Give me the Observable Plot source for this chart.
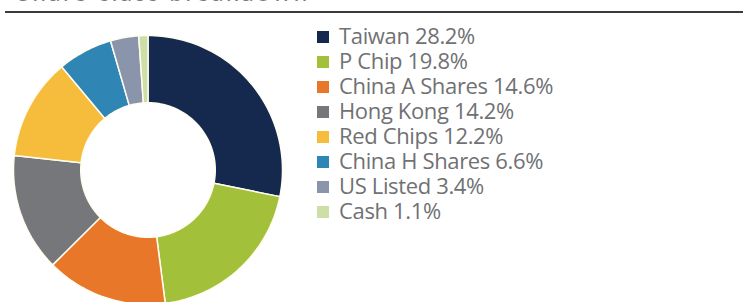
<!DOCTYPE html>
<html>
<head>
<meta charset="utf-8">
<script src="https://cdn.jsdelivr.net/npm/d3@7"></script>
<script src="https://cdn.jsdelivr.net/npm/@observablehq/plot@0.6"></script>
<style>
  html, body { margin: 0; padding: 0; background: #fff; }
  #wrap { position: relative; width: 743px; height: 302px; overflow: hidden; background: #fff; font-family: Lato, sans-serif; }
  #title { position: absolute; left: 17px; top: -20px; font-size: 24px; line-height: 24px; color: #7a7a7a; letter-spacing: 2.6px; white-space: nowrap; }
  #rule { position: absolute; left: 5px; right: 0; top: 11px; height: 2px; background: #3a3a3a; }
  #pie { position: absolute; left: 0; top: 0; }
  #legend { position: absolute; left: 300px; top: 0; }
</style>
</head>
<body>
<div id="wrap">
  <div id="title">Share class breakdown</div>
  <div id="rule"></div>
  <div id="pie"></div>
  <div id="legend"></div>
</div>
<script>
const categories = ["Taiwan", "P Chip", "China A Shares", "Hong Kong", "Red Chips", "China H Shares", "US Listed", "Cash"];
const values = [28.2, 19.8, 14.6, 14.2, 12.2, 6.6, 3.4, 1.1];
const colors = ["#14294d", "#a3c03a", "#e8772a", "#76777b", "#f6bd3c", "#2f86b4", "#8a95ab", "#cddfa6"];

const innerRatio = 0.5;
const total = d3.sum(values);

// Build polygon outlines for each donut slice (clockwise from 12 o'clock)
const points = [];
let acc = 0;
categories.forEach((name, i) => {
  const a0 = acc / total * 2 * Math.PI;
  acc += values[i];
  const a1 = acc / total * 2 * Math.PI;
  const n = Math.max(2, Math.ceil((a1 - a0) / (2 * Math.PI) * 240));
  for (let k = 0; k <= n; k++) {
    const a = a0 + (a1 - a0) * k / n;
    points.push({name, x: Math.sin(a), y: Math.cos(a)});
  }
  for (let k = n; k >= 0; k--) {
    const a = a0 + (a1 - a0) * k / n;
    points.push({name, x: innerRatio * Math.sin(a), y: innerRatio * Math.cos(a)});
  }
});

const colorScale = {domain: categories, range: colors};

const pie = Plot.plot({
  width: 300,
  height: 304,
  marginLeft: 13,
  marginRight: 18,
  marginTop: 35,
  marginBottom: 0,
  x: {domain: [-1, 1], axis: null},
  y: {domain: [-1, 1], axis: null},
  color: colorScale,
  marks: [
    Plot.line(points, {x: "x", y: "y", z: "name", fill: "name", stroke: "#fffdf0", strokeWidth: 1.5, curve: "linear-closed"})
  ]
});
document.getElementById("pie").appendChild(pie);

const legend = Plot.plot({
  width: 443,
  height: 302,
  marginLeft: 22.5,
  marginRight: 0,
  marginTop: 23.5,
  marginBottom: 78.5,
  y: {type: "band", domain: categories, padding: 0, axis: null},
  color: colorScale,
  style: {fontFamily: "'Open Sans', sans-serif", letterSpacing: "-0.35px"},
  marks: [
    Plot.dot(categories, {y: d => d, fill: d => d, symbol: "square", r: 6.77, frameAnchor: "left"}),
    Plot.text(categories, {
      y: d => d,
      text: (d, i) => `${d} ${values[i].toFixed(1)}%`,
      frameAnchor: "left",
      textAnchor: "start",
      dx: 16,
      fontSize: 22,
      fill: "#707173",
      fontFamily: "'Open Sans', sans-serif"
    })
  ]
});
document.getElementById("legend").appendChild(legend);
</script>
</body>
</html>
